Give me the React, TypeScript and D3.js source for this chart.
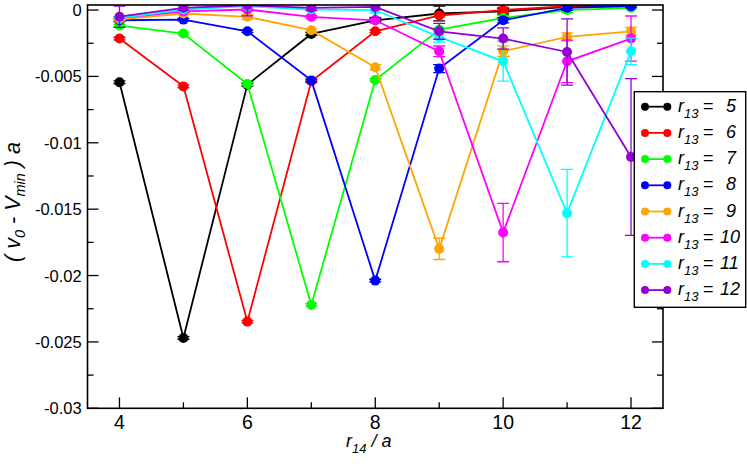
import { useEffect, useRef } from "react";
import * as d3 from "d3";

// r14 / a values
const r14 = [4, 5, 6, 7, 8, 9, 10, 11, 12];

// legend labels (r13 values)
const r13 = [5, 6, 7, 8, 9, 10, 11, 12];

const colors = ["#000000", "#ff0000", "#00ff00", "#0000ff", "#ffa500", "#ff00ff", "#00ffff", "#9400d3"];

// (v0 - Vmin) a for each r13
const s5 = [-0.00544, -0.0247, -0.00562, -0.0018, -0.00077, -0.00026, -0.0001, 0.00024, 0.0003];
const s6 = [-0.00215, -0.00575, -0.02347, -0.00537, -0.0016, -0.00041, 0.0, 0.00029, 0.00041];
const s7 = [-0.00117, -0.00177, -0.00557, -0.02221, -0.00527, -0.00147, -0.0006, 0.0, 0.00017];
const s8 = [-0.00077, -0.00072, -0.0016, -0.0053, -0.02038, -0.00441, -0.00077, 0.00017, 0.00029];
const s9 = [-0.0007, -0.00026, -0.00051, -0.00152, -0.00431, -0.01799, -0.0031, -0.00202, -0.0016];
const s10 = [-0.0006, -0.0001, 0.00004, -0.00051, -0.00077, -0.00311, -0.01676, -0.00386, -0.00215];
const s11 = [-0.0006, 0.00004, 0.00029, 0.00004, 0.0, -0.00202, -0.00386, -0.0153, -0.00311];
const s12 = [-0.0005, 0.00017, 0.00036, 0.00017, 0.00024, -0.0016, -0.00215, -0.00316, -0.01107];

// error bars
const e5 = [0.0001, 0.0001, 0.0001, 0.0001, 0.0001, 0.00055, 0.0002, 0.0001, 0.0001];
const e6 = [0.0001, 0.0001, 0.0001, 0.0001, 0.0001, 0.0001, 0.0002, 0.0001, 0.0001];
const e7 = [0.0001, 0.0001, 0.0001, 0.0001, 0.0001, 0.0001, 0.0002, 0.0002, 0.0001];
const e8 = [0.0001, 0.0001, 0.0001, 0.0001, 0.0001, 0.0003, 0.0002, 0.0002, 0.0001];
const e9 = [0.0001, 0.0001, 0.0002, 0.0001, 0.0002, 0.0008, 0.0004, 0.0003, 0.0003];
const e10 = [0.0001, 0.0001, 0.0001, 0.0001, 0.0002, 0.0004, 0.0022, 0.0016, 0.0017];
const e11 = [0.0001, 0.0001, 0.0001, 0.0001, 0.0002, 0.0004, 0.0015, 0.0033, 0.001];
const e12 = [0.0008, 0.0002, 0.0008, 0.0002, 0.0008, 0.0006, 0.0008, 0.0025, 0.0059];

const series = [s5, s6, s7, s8, s9, s10, s11, s12];
const errors = [e5, e6, e7, e8, e9, e10, e11, e12];

const xTicks = [4, 6, 8, 10, 12];
const xMinor = [5, 7, 9, 11];
const yTicks = [0, -0.005, -0.01, -0.015, -0.02, -0.025, -0.03];
const yTickLabels = ["0", "-0.005", "-0.01", "-0.015", "-0.02", "-0.025", "-0.03"];
const yMinor = [-0.0025, -0.0075, -0.0125, -0.0175, -0.0225, -0.0275];

const font = "Liberation Sans, Arial, DejaVu Sans, sans-serif";

export default function App() {
  const ref = useRef<SVGSVGElement>(null);

  useEffect(() => {
    if (!ref.current) return;
    const svg = d3.select(ref.current);
    svg.selectAll("*").remove();

    const left = 87.5, right = 663, top = 5, bottom = 408.3;

    const x = d3.scaleLinear().domain([3.5, 12.5]).range([left, right]);
    const y = d3.scaleLinear().domain([-0.03, 0.00038]).range([bottom, top]);

    svg.append("rect").attr("width", 747).attr("height", 464).attr("fill", "#fff");

    svg.append("defs").append("clipPath").attr("id", "plotclip")
      .append("rect").attr("x", left).attr("y", top).attr("width", right - left).attr("height", bottom - top);

    // ticks (inward, left/right/bottom)
    const axes = svg.append("g").attr("stroke", "#000").attr("stroke-width", 1.3);
    xTicks.forEach((t) => {
      axes.append("line").attr("x1", x(t)).attr("x2", x(t)).attr("y1", bottom).attr("y2", bottom - 11);
    });
    xMinor.forEach((t) => {
      axes.append("line").attr("x1", x(t)).attr("x2", x(t)).attr("y1", bottom).attr("y2", bottom - 6);
    });
    yTicks.forEach((t) => {
      axes.append("line").attr("x1", left).attr("x2", left + 11).attr("y1", y(t)).attr("y2", y(t));
      axes.append("line").attr("x1", right).attr("x2", right - 11).attr("y1", y(t)).attr("y2", y(t));
    });
    yMinor.forEach((t) => {
      axes.append("line").attr("x1", left).attr("x2", left + 6).attr("y1", y(t)).attr("y2", y(t));
      axes.append("line").attr("x1", right).attr("x2", right - 6).attr("y1", y(t)).attr("y2", y(t));
    });

    // tick labels
    svg.append("g").selectAll("text").data(xTicks).join("text")
      .attr("x", (d) => x(d)).attr("y", 429)
      .attr("text-anchor", "middle")
      .attr("font-family", font).attr("font-size", 19.5)
      .text((d) => String(d));

    svg.append("g").selectAll("text").data(yTicks).join("text")
      .attr("x", 81.7).attr("y", (d) => y(d) + 6)
      .attr("text-anchor", "end")
      .attr("font-family", font).attr("font-size", 16.5)
      .text((_, i) => yTickLabels[i]);

    // data
    const plot = svg.append("g").attr("clip-path", "url(#plotclip)");
    const line = d3.line<number>().x((_, i) => x(r14[i])).y((d) => y(d));

    series.forEach((s, k) => {
      const c = colors[k];
      const g = plot.append("g");
      g.append("path").attr("d", line(s)).attr("fill", "none").attr("stroke", c).attr("stroke-width", 1.8);
      s.forEach((v, i) => {
        const e = errors[k][i];
        const cx = x(r14[i]);
        g.append("line").attr("x1", cx).attr("x2", cx).attr("y1", y(v - e)).attr("y2", y(v + e))
          .attr("stroke", c).attr("stroke-width", 1.3);
        [v - e, v + e].forEach((w) => {
          g.append("line").attr("x1", cx - 6).attr("x2", cx + 6).attr("y1", y(w)).attr("y2", y(w))
            .attr("stroke", c).attr("stroke-width", 1.3);
        });
      });
      g.selectAll("circle").data(s).join("circle")
        .attr("cx", (_, i) => x(r14[i])).attr("cy", (d) => y(d)).attr("r", 5).attr("fill", c);
    });

    // frame
    svg.append("rect").attr("x", left).attr("y", top).attr("width", right - left).attr("height", bottom - top)
      .attr("fill", "none").attr("stroke", "#000").attr("stroke-width", 1.6);

    // axis titles
    const yl = svg.append("text")
      .attr("transform", "translate(20,202) rotate(-90)")
      .attr("text-anchor", "middle")
      .attr("font-family", font).attr("font-size", 21.5).attr("font-style", "italic");
    yl.append("tspan").text("( v");
    yl.append("tspan").attr("dy", 5).attr("font-size", 14.5).text("0");
    yl.append("tspan").attr("dy", -5).text(" - V");
    yl.append("tspan").attr("dy", 5).attr("font-size", 14.5).text("min");
    yl.append("tspan").attr("dy", -5).text(" ) a");

    const xl = svg.append("text").attr("x", 346).attr("y", 447)
      .attr("font-family", font).attr("font-size", 18).attr("font-style", "italic");
    xl.append("tspan").text("r");
    xl.append("tspan").attr("dy", 6).attr("font-size", 13).text("14");
    xl.append("tspan").attr("dy", -6).text(" / a");

    // legend
    const lg = svg.append("g");
    lg.append("rect").attr("x", 634.3).attr("y", 91.7).attr("width", 111.4).attr("height", 215.6)
      .attr("fill", "#fff").attr("stroke", "#000").attr("stroke-width", 1.4);
    r13.forEach((n, i) => {
      const ry = 106.7 + i * 26.2;
      const c = colors[i];
      lg.append("line").attr("x1", 645).attr("x2", 667.3).attr("y1", ry).attr("y2", ry)
        .attr("stroke", c).attr("stroke-width", 1.8);
      lg.append("circle").attr("cx", 645).attr("cy", ry).attr("r", 4).attr("fill", c);
      lg.append("circle").attr("cx", 667.3).attr("cy", ry).attr("r", 4).attr("fill", c);
      const t = lg.append("text").attr("x", 678).attr("y", ry + 5)
        .attr("font-family", font).attr("font-size", 18).attr("font-style", "italic");
      t.append("tspan").text("r");
      t.append("tspan").attr("dy", 6).attr("font-size", 13).text("13");
      lg.append("text").attr("x", 703).attr("y", ry + 5)
        .attr("font-family", font).attr("font-size", 18).text("=");
      lg.append("text").attr("x", n < 10 ? 726 : 720).attr("y", ry + 5)
        .attr("font-family", font).attr("font-size", 18).attr("font-style", "italic")
        .text(String(n));
    });
  }, []);

  return (
    <svg
      ref={ref}
      width={747}
      height={464}
      style={{ position: "absolute", left: 0, top: 0, display: "block" }}
    />
  );
}
